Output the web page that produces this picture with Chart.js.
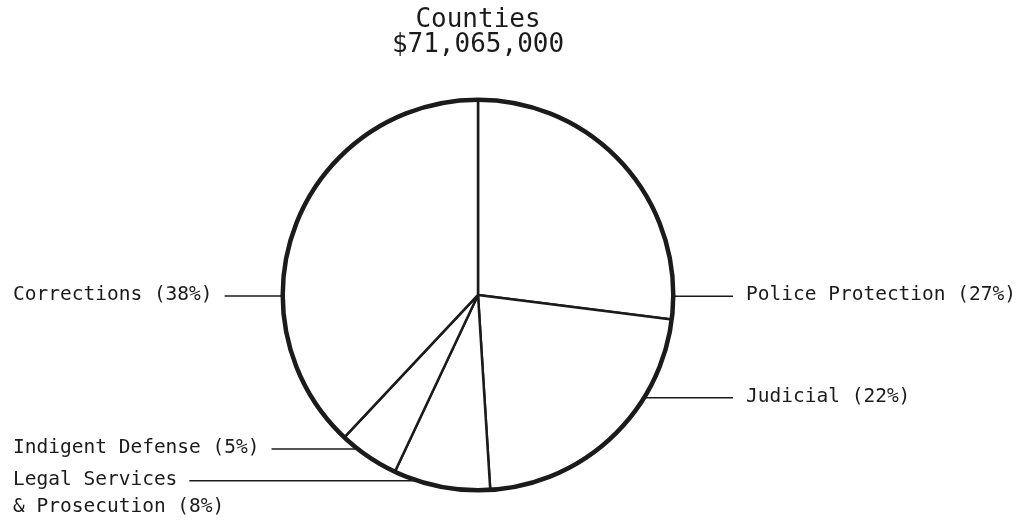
<!DOCTYPE html>
<html>
<head>
<meta charset="utf-8">
<script src="https://cdn.jsdelivr.net/npm/chart.js@4/dist/chart.umd.min.js"></script>
<style>
  html, body { margin: 0; padding: 0; background: #fff; }
  #wrap { width: 1020px; height: 520px; }
</style>
</head>
<body>
<div id="wrap"><canvas id="pieChart" width="1020" height="520"></canvas></div>
<script>
// Data
const titleLines = ['Counties', '$71,065,000'];
const categories = ['Police Protection', 'Judicial', 'Legal Services\n& Prosecution', 'Indigent Defense', 'Corrections'];
const shares = [27, 22, 8, 5, 38];

// Label placement: which side, and where along each slice the leader line touches the rim
const labelSide = ['right', 'right', 'left', 'left', 'left'];
const labelAnchor = [0.93, 0.31, 0.75, 0.71, 0.34];

const ink = '#1b1b1b';
const labelFont = "19.5px 'DejaVu Sans Mono', monospace";

// Draws the heavy rim plus the callout labels with their horizontal leader lines
const calloutPlugin = {
    id: 'callouts',
    afterDatasetsDraw(chart) {
        const ctx = chart.ctx;
        const arcs = chart.getDatasetMeta(0).data;
        if (!arcs.length) return;
        const cx = arcs[0].x, cy = arcs[0].y, r = arcs[0].outerRadius;

        ctx.save();
        // rim
        ctx.beginPath();
        ctx.arc(cx, cy, r, 0, Math.PI * 2);
        ctx.lineWidth = 4.5;
        ctx.strokeStyle = ink;
        ctx.stroke();

        ctx.font = labelFont;
        ctx.fillStyle = ink;
        ctx.textBaseline = 'middle';
        ctx.textAlign = 'left';
        ctx.lineWidth = 1.5;

        arcs.forEach((arc, i) => {
            const a = arc.startAngle + (arc.endAngle - arc.startAngle) * labelAnchor[i];
            const px = cx + Math.cos(a) * r;
            const py = cy + Math.sin(a) * r;
            const lines = (categories[i] + ' (' + shares[i] + '%)').split('\n');
            ctx.beginPath();
            let tx;
            if (labelSide[i] === 'right') {
                tx = 746;
                ctx.moveTo(px, py);
                ctx.lineTo(tx - 13, py);
            } else {
                tx = 13;
                const w = ctx.measureText(lines[0]).width;
                ctx.moveTo(tx + w + 12, py);
                ctx.lineTo(px, py);
            }
            ctx.stroke();
            lines.forEach((ln, k) => ctx.fillText(ln, tx, py - 1 + k * 27));
        });
        ctx.restore();
    }
};

const ctxPie = document.getElementById('pieChart').getContext('2d');
new Chart(ctxPie, {
    type: 'pie',
    data: {
        labels: categories,
        datasets: [{
            data: shares,
            backgroundColor: '#ffffff',
            borderColor: ink,
            borderWidth: 2.5
        }]
    },
    options: {
        responsive: false,
        animation: false,
        layout: { padding: { top: 0, bottom: 28.5, left: 0, right: 64 } },
        plugins: {
            legend: { display: false },
            tooltip: { enabled: false },
            title: {
                display: true,
                text: titleLines,
                color: ink,
                font: { family: "'DejaVu Sans Mono', monospace", size: 26, weight: 'normal', lineHeight: 0.96 },
                padding: { top: 7.5, bottom: 41 }
            }
        }
    },
    plugins: [calloutPlugin]
});
</script>
</body>
</html>
